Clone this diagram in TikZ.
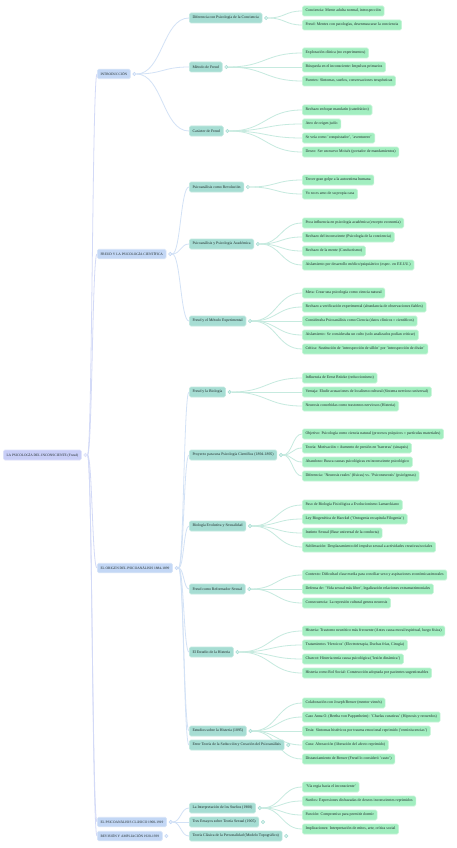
\documentclass[tikz,border=0pt]{standalone}
\usepackage{fontspec}
\setmainfont{Liberation Serif}
\usetikzlibrary{calc}
\definecolor{rootfill}{HTML}{C8CEF7}
\definecolor{rootline}{HTML}{DCE1FA}
\definecolor{lafill}{HTML}{C3D7F5}
\definecolor{laline}{HTML}{D8E5F8}
\definecolor{lbfill}{HTML}{A6DDD3}
\definecolor{lbline}{HTML}{C3E9E1}
\definecolor{lcfill}{HTML}{A2EEC0}
\definecolor{lcline}{HTML}{C6F5D8}
\definecolor{eroot}{HTML}{D3DAF7}
\definecolor{ea}{HTML}{D3E2F6}
\definecolor{eb}{HTML}{C6EADF}
\definecolor{txt}{HTML}{1F2A2A}
\pgfdeclarelayer{bg}
\pgfdeclarelayer{edges}
\pgfsetlayers{bg,edges,main}
\begin{document}
\begin{tikzpicture}[x=1pt,y=-1pt,
  box/.style={anchor=west, rounded corners=1.5pt, inner xsep=3.2pt, inner ysep=0pt,
    minimum height=10pt, text=txt, line width=0.6pt},
  rootn/.style={box, fill=rootfill, draw=rootline, font=\fontsize{3.5}{4}\selectfont},
  la/.style={box, fill=lafill, draw=laline, minimum height=9.5pt, font=\fontsize{3.5}{4}\selectfont},
  lb/.style={box, fill=lbfill, draw=lbline, font=\fontsize{3.85}{4}\selectfont},
  lc/.style={box, fill=lcfill, draw=lcline, font=\fontsize{3.9}{4}\selectfont},
  dot/.style={circle, inner sep=0pt, minimum size=3.4pt, line width=0.5pt, fill=white},
  mm/.style={to path={let \p1=(\tikztostart), \p2=(\tikztotarget) in
    .. controls ({(\x1+\x2)/2},\y1) and ({(\x1+\x2)/2},\y2) .. (\tikztotarget)}},
  er/.style={draw=eroot, line width=0.8pt},
  eA/.style={draw=ea, line width=0.8pt},
  eB/.style={draw=eb, line width=0.8pt}
]
\begin{pgfonlayer}{bg}
\fill[white] (0,0) rectangle (457,848);
\end{pgfonlayer}
\useasboundingbox (0,0) rectangle (457,848);

% root
\node[rootn] (r) at (3,455) {LA PSICOLOGÍA DEL INCONSCIENTE (Freud)};
% level 1
\node[la] (a1) at (97,74) {INTRODUCCIÓN};
\node[la] (a2) at (97,254) {FREUD Y LA PSICOLOGÍA CIENTÍFICA};
\node[la] (a3) at (97,568) {EL ORIGEN DEL PSICOANÁLISIS 1884-1899};
\node[la] (a4) at (97,822) {EL PSICOANÁLISIS CLÁSICO 1900-1919};
\node[la] (a5) at (97,836) {REVISIÓN Y AMPLIACIÓN 1920-1939};
% level 2
\node[lb] (b1) at (189,18) {Diferencia con Psicología de la Conciencia};
\node[lb] (b2) at (189,67) {Método de Freud};
\node[lb] (b3) at (189,131) {Carácter de Freud};
\node[lb] (b4) at (189,187) {Psicoanálisis como Revolución};
\node[lb] (b5) at (189,244) {Psicoanálisis y Psicología Académica};
\node[lb] (b6) at (189,321) {Freud y el Método Experimental};
\node[lb] (b7) at (189,392) {Freud y la Biología};
\node[lb] (b8) at (189,455) {Proyecto para una Psicología Científica (1894-1895)};
\node[lb] (b9) at (189,526) {Biología Evolutiva y Sexualidad};
\node[lb] (b10) at (189,589) {Freud como Reformador Sexual};
\node[lb] (b11) at (189,652) {El Estudio de la Histeria};
\node[lb] (b12) at (189,731) {Estudios sobre la Histeria (1895)};
\node[lb] (b13) at (189,745) {Error Teoría de la Seducción y Creación del Psicoanálisis};
\node[lb] (b14) at (189,808) {La Interpretación de los Sueños (1900)};
\node[lb] (b15) at (189,822) {Tres Ensayos sobre Teoría Sexual (1905)};
\node[lb] (b16) at (189,836) {Teoría Clásica de la Personalidad (Modelo Topográfico)};
% level 3
\node[lc] (c1) at (302,11) {Conciencia: Mente adulta normal, introspección};
\node[lc] (c2) at (302,25) {Freud: Mentes con patologías, desenmascarar la conciencia};
\node[lc] (c3) at (302,53) {Exploración clínica (no experimentos)};
\node[lc] (c4) at (302,67) {Búsqueda en el inconsciente: Impulsos primarios};
\node[lc] (c5) at (302,81) {Fuentes: Síntomas, sueños, conversaciones terapéuticas};
\node[lc] (c6) at (302,110) {Rechazo enfoque mandarín (catedrático)};
\node[lc] (c7) at (302,124) {Ateo de origen judío};
\node[lc] (c8) at (302,138) {Se veía como 'conquistador', 'aventurero'};
\node[lc] (c9) at (302,152) {Deseo: Ser un nuevo Moisés (portador de mandamientos)};
\node[lc] (c10) at (302,180) {Tercer gran golpe a la autoestima humana};
\node[lc] (c11) at (302,194) {Yo no es amo de su propia casa};
\node[lc] (c12) at (302,223) {Poca influencia en psicología académica (excepto economía)};
\node[lc] (c13) at (302,237) {Rechazo del inconsciente (Psicología de la conciencia)};
\node[lc] (c14) at (302,251) {Rechazo de la mente (Conductismo)};
\node[lc] (c15) at (302,265) {Aislamiento por desarrollo médico/psiquiátrico (espec. en EE.UU.)};
\node[lc] (c16) at (302,293) {Meta: Crear una psicología como ciencia natural};
\node[lc] (c17) at (302,307) {Rechazo a verificación experimental (abundancia de observaciones fiables)};
\node[lc] (c18) at (302,321) {Consideraba Psicoanálisis como Ciencia (datos clínicos = científicos)};
\node[lc] (c19) at (302,335) {Aislamiento: Se consideraba un culto (solo analizados podían criticar)};
\node[lc] (c20) at (302,349) {Crítica: Sustitución de 'introspección de sillón' por 'introspección de diván'};
\node[lc] (c21) at (302,378) {Influencia de Ernst Brücke (reduccionismo)};
\node[lc] (c22) at (302,392) {Ventaja: Eludir acusaciones de localismo cultural (Sistema nervioso universal)};
\node[lc] (c23) at (302,406) {Neurosis concebidas como trastornos nerviosos (Histeria)};
\node[lc] (c24) at (302,434) {Objetivo: Psicología como ciencia natural (procesos psíquicos = partículas materiales)};
\node[lc] (c25) at (302,448) {Teoría: Motivación = Aumento de presión en 'barreras' (sinapsis)};
\node[lc] (c26) at (302,462) {Abandono: Busca causas psicológicas en inconsciente psicológico};
\node[lc] (c27) at (302,476) {Diferencia: 'Neurosis reales' (físicas) vs. 'Psiconeurosis' (psicógenas)};
\node[lc] (c28) at (302,505) {Paso de Biología Fisiológica a Evolucionismo Lamarckiano};
\node[lc] (c29) at (302,519) {Ley Biogenética de Haeckel ('Ontogenia recapitula Filogenia')};
\node[lc] (c30) at (302,533) {Instinto Sexual (Base universal de la conducta)};
\node[lc] (c31) at (302,547) {Sublimación: Desplazamiento del impulso sexual a actividades creativas/sociales};
\node[lc] (c32) at (302,575) {Contexto: Dificultad clase media para conciliar sexo y aspiraciones económicas/morales};
\node[lc] (c33) at (302,589) {Defensa de: 'Vida sexual más libre', legalización relaciones extramatrimoniales};
\node[lc] (c34) at (302,603) {Consecuencia: La represión cultural genera neurosis};
\node[lc] (c35) at (302,631) {Histeria: Trastorno neurótico más frecuente (Antes causa moral/espiritual, luego física)};
\node[lc] (c36) at (302,645) {Tratamientos 'Heroicos' (Electroterapia, Duchas frías, Cirugía)};
\node[lc] (c37) at (302,659) {Charcot: Histeria tenía causa psicológica ('lesión dinámica')};
\node[lc] (c38) at (302,673) {Histeria como Rol Social: Construcción adoptada por pacientes sugestionables};
\node[lc] (c39) at (302,703) {Colaboración con Joseph Breuer (mentor vienés)};
\node[lc] (c40) at (302,717) {Caso Anna O. (Bertha von Pappenheim): 'Charlas curativas' (Hipnosis y recuerdos)};
\node[lc] (c41) at (302,731) {Tesis: Síntomas histéricos por trauma emocional reprimido ('reminiscencias')};
\node[lc] (c42) at (302,745) {Cura: Abreacción (liberación del afecto reprimido)};
\node[lc] (c43) at (302,759) {Distanciamiento de Breuer (Freud lo consideró 'casto')};
\node[lc] (c44) at (302,787) {'Vía regia hacia el inconsciente'};
\node[lc] (c45) at (302,801) {Sueños: Expresiones disfrazadas de deseos inconscientes reprimidos};
\node[lc] (c46) at (302,815) {Función: Compromiso para permitir dormir};
\node[lc] (c47) at (302,829) {Implicaciones: Interpretación de mitos, arte, crítica social};

% dots
\node[dot, draw=rootline, fill=rootfill!40] (r-d) at ([xshift=3.8pt]r.east) {};
\foreach \k in {a1,a2,a3,a4,a5}
  \node[dot, draw=lafill, fill=lafill!40] (\k-d) at ([xshift=3.8pt]\k.east) {};
\foreach \k in {b1,b2,b3,b4,b5,b6,b7,b8,b9,b10,b11,b12,b13,b14,b15,b16}
  \node[dot, draw=lbfill, fill=lbfill!40] (\k-d) at ([xshift=3.8pt]\k.east) {};

% connectors
\begin{pgfonlayer}{edges}
\foreach \k in {a1,a2,a3,a4,a5} \draw[er] (r-d.east) to[mm] (\k.west);
\foreach \k in {b1,b2,b3} \draw[eA] (a1-d.east) to[mm] (\k.west);
\foreach \k in {b4,b5,b6} \draw[eA] (a2-d.east) to[mm] (\k.west);
\foreach \k in {b7,b8,b9,b10,b11,b12,b13} \draw[eA] (a3-d.east) to[mm] (\k.west);
\foreach \k in {b14,b15,b16} \draw[eA] (a4-d.east) to[mm] (\k.west);
\foreach \k in {c1,c2} \draw[eB] (b1-d.east) to[mm] (\k.west);
\foreach \k in {c3,c4,c5} \draw[eB] (b2-d.east) to[mm] (\k.west);
\foreach \k in {c6,c7,c8,c9} \draw[eB] (b3-d.east) to[mm] (\k.west);
\foreach \k in {c10,c11} \draw[eB] (b4-d.east) to[mm] (\k.west);
\foreach \k in {c12,c13,c14,c15} \draw[eB] (b5-d.east) to[mm] (\k.west);
\foreach \k in {c16,c17,c18,c19,c20} \draw[eB] (b6-d.east) to[mm] (\k.west);
\foreach \k in {c21,c22,c23} \draw[eB] (b7-d.east) to[mm] (\k.west);
\foreach \k in {c24,c25,c26,c27} \draw[eB] (b8-d.east) to[mm] (\k.west);
\foreach \k in {c28,c29,c30,c31} \draw[eB] (b9-d.east) to[mm] (\k.west);
\foreach \k in {c32,c33,c34} \draw[eB] (b10-d.east) to[mm] (\k.west);
\foreach \k in {c35,c36,c37,c38} \draw[eB] (b11-d.east) to[mm] (\k.west);
\foreach \k in {c39,c40,c41,c42,c43} \draw[eB] (b12-d.east) to[mm] (\k.west);
\foreach \k in {c44,c45,c46,c47} \draw[eB] (b14-d.east) to[mm] (\k.west);
\end{pgfonlayer}
\end{tikzpicture}
\end{document}
